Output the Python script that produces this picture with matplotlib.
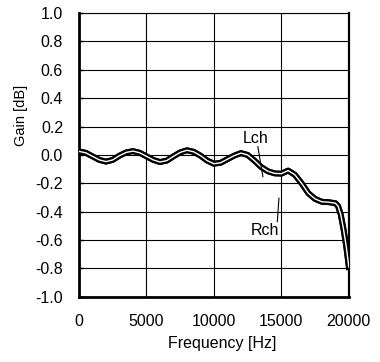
import matplotlib
matplotlib.use('Agg')
import matplotlib.pyplot as plt
import matplotlib.patheffects as pe

freq = [0, 500, 1000, 1500, 2000, 2500, 3000, 3500, 4000, 4500, 5000, 5500, 6000,
        6500, 7000, 7500, 8000, 8500, 9000, 9500, 10000, 10500, 11000, 11500, 12000,
        12500, 13000, 13500, 14000, 14500, 15000, 15500, 16000, 16500, 17000, 17500,
        18000, 18500, 19000, 19200, 19400, 19600, 19800, 20000]
lch = [0.025, 0.015, -0.01, -0.035, -0.047, -0.035, -0.005, 0.018, 0.027, 0.015, -0.01,
       -0.035, -0.05, -0.04, -0.01, 0.018, 0.033, 0.022, -0.005, -0.04, -0.062, -0.055,
       -0.03, -0.005, 0.013, 0.0, -0.04, -0.085, -0.115, -0.13, -0.132, -0.11, -0.14,
       -0.2, -0.27, -0.31, -0.33, -0.333, -0.34, -0.36, -0.42, -0.52, -0.64, -0.79]
rch = list(lch)

xticks = [0, 5000, 10000, 15000, 20000]
yticks = [-1.0, -0.8, -0.6, -0.4, -0.2, 0.0, 0.2, 0.4, 0.6, 0.8, 1.0]

# label text positions and leader lines (data coords)
lch_txt = (13085, 0.116)
lch_lead = ([13257, 13628], [0.058, -0.153])
rch_txt = (13790, -0.535)
rch_lead = ([14818, 14699], [-0.305, -0.47])

fs = 11.5
plt.rcParams['font.family'] = ['Liberation Sans', 'DejaVu Sans']
fig = plt.figure(figsize=(3.8, 3.62), dpi=100)
ax = fig.add_axes([0.208, 0.180, 0.71, 0.784])

ax.set_xlim(0, 20000)
ax.set_ylim(-1.0, 1.0)
ax.set_xticks(xticks)
ax.set_yticks(yticks)
ax.set_yticklabels(['{:.1f}'.format(v) for v in yticks])
ax.tick_params(axis='y', direction='in', length=3, width=1, pad=11.5, labelsize=fs)
ax.tick_params(axis='x', length=0, pad=12.5, labelsize=fs)
ax.grid(True, color='black', linewidth=0.8)

for side, lw in [('left', 2.0), ('bottom', 2.0), ('right', 1.6), ('top', 0.8)]:
  ax.spines[side].set_linewidth(lw)

# the two channels nearly overlap and read as a double line
for y in [lch, rch]:
  ax.plot(freq, y, color='white', linewidth=1.0, zorder=3,
          path_effects=[pe.Stroke(linewidth=4.2, foreground='black'), pe.Normal()])

ax.text(lch_txt[0], lch_txt[1], 'Lch', fontsize=fs, ha='center', va='center')
ax.plot(lch_lead[0], lch_lead[1], color='black', linewidth=0.8, zorder=4)
ax.text(rch_txt[0], rch_txt[1], 'Rch', fontsize=fs, ha='center', va='center')
ax.plot(rch_lead[0], rch_lead[1], color='black', linewidth=0.8, zorder=4)

ax.set_ylabel('Gain [dB]', fontsize=10.5)
ax.set_xlabel('Frequency [Hz]', fontsize=fs)
ax.yaxis.set_label_coords(-0.189, 0.64)
ax.xaxis.set_label_coords(0.53, -0.137)

plt.savefig('out.png', dpi=100)
